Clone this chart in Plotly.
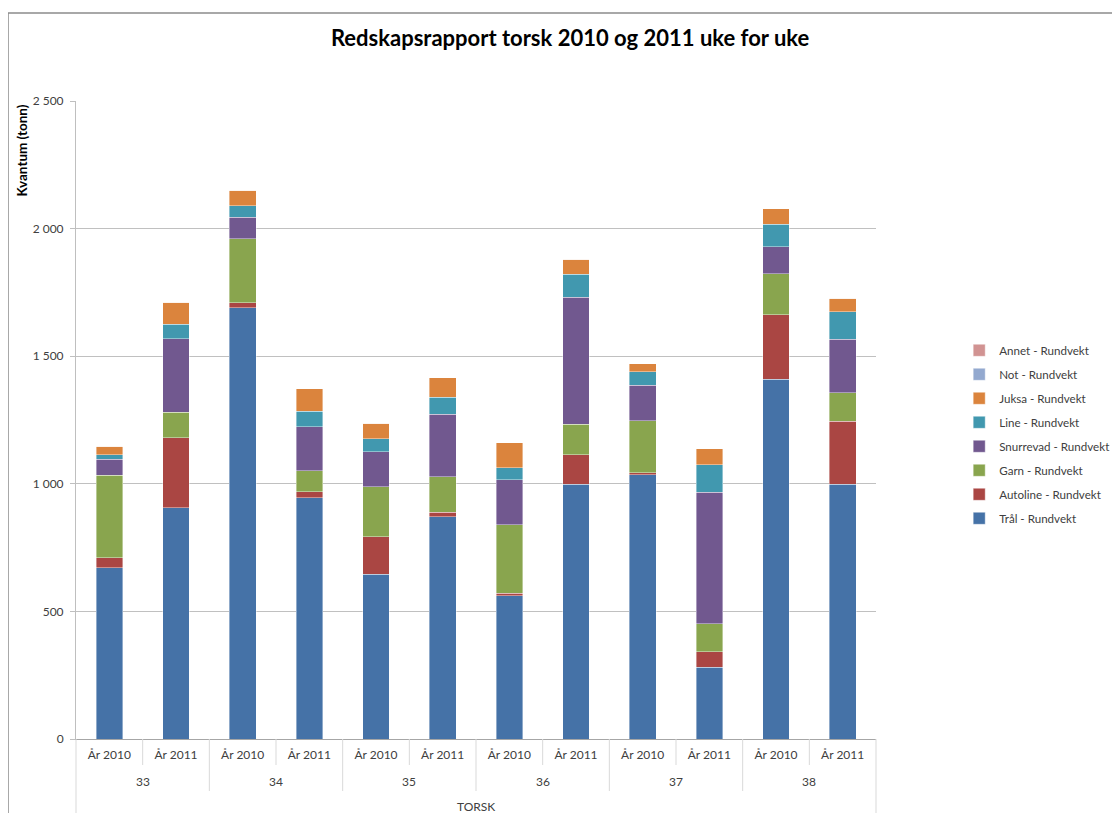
import plotly.graph_objects as go

weeks = ["33", "33", "34", "34", "35", "35", "36", "36", "37", "37", "38", "38"]
years = ["År 2010", "År 2011"] * 6
group_label = "TORSK"

tral      = [671, 906, 1690, 946, 645, 871, 562, 999, 1036, 282, 1410, 999]
autoline  = [40, 275, 20, 23, 148, 17, 10, 114, 7, 59, 252, 246]
garn      = [323, 99, 250, 82, 196, 140, 267, 120, 204, 110, 161, 111]
snurrevad = [63, 289, 85, 172, 137, 245, 176, 498, 140, 516, 106, 210]
line_     = [17, 57, 45, 62, 51, 66, 48, 90, 52, 107, 88, 108]
juksa     = [34, 85, 60, 88, 60, 76, 98, 59, 32, 64, 61, 53]
not_      = [0] * 12
annet     = [0] * 12

series = [
    ("Trål - Rundvekt", tral, "#4572A7"),
    ("Autoline - Rundvekt", autoline, "#AA4643"),
    ("Garn - Rundvekt", garn, "#89A54E"),
    ("Snurrevad - Rundvekt", snurrevad, "#71588F"),
    ("Line - Rundvekt", line_, "#4198AF"),
    ("Juksa - Rundvekt", juksa, "#DB843D"),
    ("Not - Rundvekt", not_, "#93A9CF"),
    ("Annet - Rundvekt", annet, "#D19392"),
]

cats = [f"{w} {y}" for w, y in zip(weeks, years)]

FONT = "Lato, 'Open Sans', sans-serif"
SEP = "#d9d9d9"
PH = 638.0  # plot-area height in px

fig = go.Figure()
n = len(series)
for i, (name, vals, col) in enumerate(series):
    fig.add_trace(go.Bar(
        x=cats, y=vals, name=name, legendgroup=name, legendrank=n - i,
        marker=dict(color=col, line=dict(color="rgba(255,255,255,0.5)", width=0.8)),
    ))

fig.update_layout(
    barmode="stack",
    bargap=0.6,
    width=1112, height=805,
    margin=dict(l=68, r=244, t=93, b=74, autoexpand=False),
    paper_bgcolor="white", plot_bgcolor="white",
    separators=", ",
    font=dict(family=FONT, size=12, color="#404040"),
    title=dict(text="<b>Redskapsrapport torsk 2010 og 2011 uke for uke</b>",
               x=0.5055, xanchor="center", y=1 - 30 / 805, yanchor="middle",
               font=dict(family=FONT, size=22, color="#000000")),
    legend=dict(x=1.104, xanchor="left", y=0.632, yanchor="top",
                traceorder="grouped", tracegroupgap=5,
                font=dict(family=FONT, size=11.6, color="#404040"),
                itemclick=False),
    showlegend=True,
)

fig.update_yaxes(
    range=[0, 2500], dtick=500, tickformat=",d",
    showgrid=True, gridcolor="#c0c0c0", gridwidth=1,
    showline=True, linecolor="#bfbfbf", linewidth=1,
    ticks="outside", ticklen=5, tickcolor="#bfbfbf",
    ticklabelstandoff=4,
    tickfont=dict(family=FONT, size=12, color="#404040"),
    zeroline=False,
)

fig.update_xaxes(
    type="category", categoryorder="array", categoryarray=cats,
    tickvals=cats, ticktext=years,
    showline=True, linecolor="#a6a6a6", linewidth=1,
    ticks="", ticklabelstandoff=5,
    tickfont=dict(family=FONT, size=12, color="#404040"),
)

# y-axis title at top of axis
fig.add_annotation(text="<b>Kvantum (tonn)</b>", textangle=-90,
                   xref="paper", yref="paper", x=-0.068, y=0.997,
                   xanchor="center", yanchor="top", showarrow=False,
                   font=dict(family=FONT, size=13.5, color="#000000"))

# week labels (second category level)
week_ids = []
for i, w in enumerate(weeks):
    if i == 0 or weeks[i - 1] != w:
        week_ids.append(i)
for k, start in enumerate(week_ids):
    end = (week_ids[k + 1] if k + 1 < len(week_ids) else len(weeks)) - 1
    fig.add_annotation(text=weeks[start], xref="x", yref="paper",
                       x=(start + end) / 2, y=-42 / PH,
                       xanchor="center", yanchor="middle", showarrow=False,
                       font=dict(family=FONT, size=12, color="#404040"))
    if start > 0:
        fig.add_shape(type="line", xref="x", yref="paper",
                      x0=start - 0.5, x1=start - 0.5, y0=0, y1=-52 / PH,
                      line=dict(color=SEP, width=1))
    for j in range(start + 1, end + 1):
        fig.add_shape(type="line", xref="x", yref="paper",
                      x0=j - 0.5, x1=j - 0.5, y0=0, y1=-26 / PH,
                      line=dict(color=SEP, width=1))

# top level label
fig.add_annotation(text=group_label, xref="paper", yref="paper",
                   x=0.5, y=-67 / PH, xanchor="center", yanchor="middle",
                   showarrow=False, font=dict(family=FONT, size=12, color="#404040"))

# outer category boundaries extending to the bottom
for xv in (0, 1):
    fig.add_shape(type="line", xref="paper", yref="paper",
                  x0=xv, x1=xv, y0=0, y1=-0.2,
                  line=dict(color=SEP, width=1))

# chart-area border
fig.add_shape(type="rect", xref="paper", yref="paper",
              x0=-0.085, y0=-0.3, x1=1.5, y1=1.138,
              line=dict(color="#8c8c8c", width=1.5), fillcolor="rgba(0,0,0,0)", layer="below")

fig.write_html("out.html")
